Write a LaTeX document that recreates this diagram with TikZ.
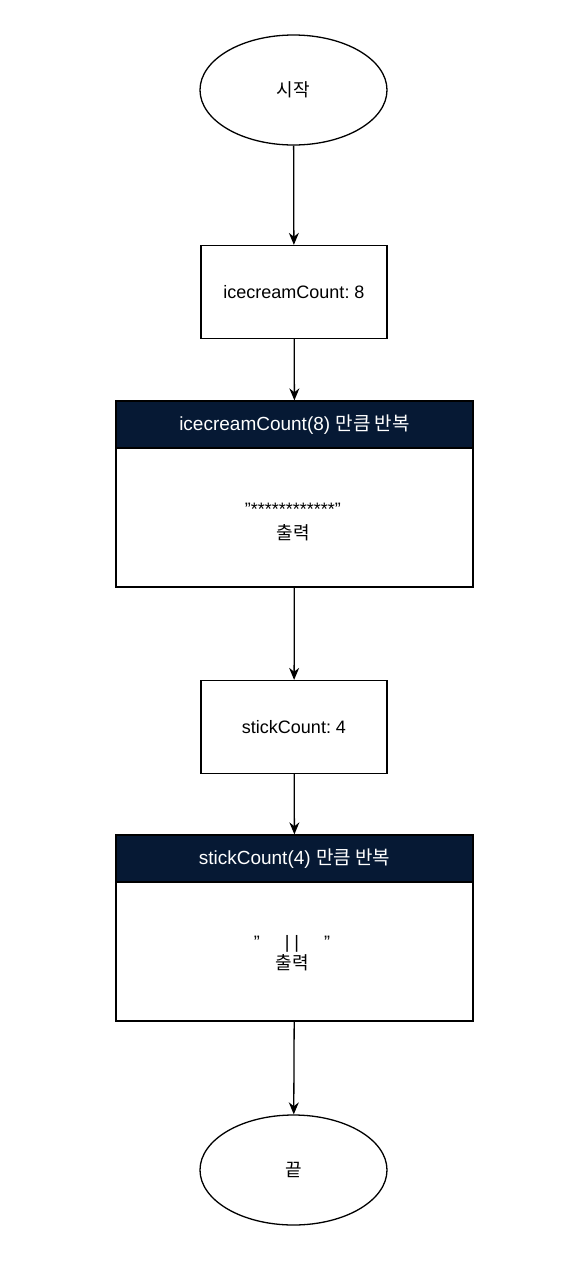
\documentclass[tikz,border=0pt]{standalone}
\usepackage{fontspec}
\setmainfont{Liberation Sans}
\newfontfamily\kr{Noto Sans CJK KR}
\usetikzlibrary{shapes.geometric,arrows.meta}
\definecolor{navy}{RGB}{6,25,52}
\newcommand{\dq}{\char"22\relax}
\tikzset{
  base/.style={draw=black, line width=1.3pt, font=\frenchspacing\fontsize{18}{24}\selectfont, text=black},
  term/.style={base, ellipse, minimum width=187pt, minimum height=110pt, inner sep=0pt},
  procbox/.style={base, rectangle, minimum width=186pt, minimum height=93pt},
  loophead/.style={base, rectangle, fill=navy, text=white, minimum width=357pt, minimum height=47pt, inner sep=0pt, font=\frenchspacing\fontsize{19}{24}\selectfont},
  loopbody/.style={base, rectangle, minimum width=357pt, minimum height=139pt, inner sep=0pt},
  bodytext/.style={align=center, font=\frenchspacing\fontsize{18}{24}\selectfont, inner sep=0pt},
  flow/.style={line width=1.3pt, -{Stealth[length=12pt,width=10pt]}}
}
\begin{document}
\begin{tikzpicture}[x=1pt,y=-1pt]
\useasboundingbox (0,0) rectangle (586,1270);
\node[term] (start) at (293.5,90) {\kr 시작};
\node[procbox] (ice) at (294,292) {icecreamCount: 8};
\node[loophead] (h1) at (294.5,424.5) {icecreamCount(8) {\kr 만큼 반복}};
\node[loopbody] (b1) at (294.5,517.5) {};
\node[bodytext] (t1) at (293,522) {\dq************\dq\\{\kr 출력}};
\node[procbox] (stick) at (294,727) {stickCount: 4};
\node[loophead] (h2) at (294.5,858.5) {stickCount(4) {\kr 만큼 반복}};
\node[loopbody] (b2) at (294.5,951.5) {};
\node[bodytext] (t2) at (292,953) {\dq~~~~~|~|~~~~~\dq\\[-3pt]{\kr 출력}};
\node[term] (end) at (293.5,1170) {\kr 끝};
\draw[flow] (start) -- (ice);
\draw[flow] (ice) -- (h1);
\draw[flow] (b1) -- (stick);
\draw[flow] (stick) -- (h2);
\draw[flow] (b2) -- (end);
\end{tikzpicture}
\end{document}
